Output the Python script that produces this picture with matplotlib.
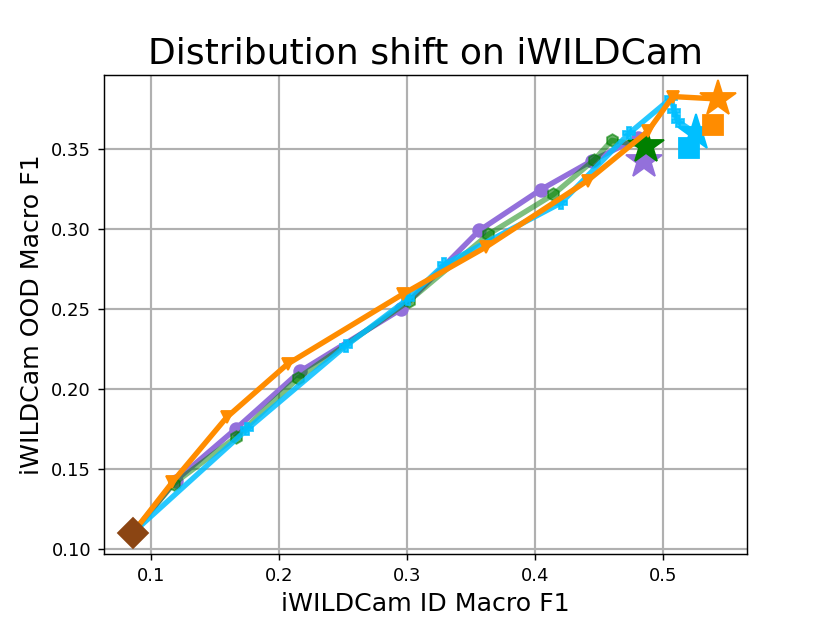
import matplotlib
matplotlib.use("Agg")
import matplotlib.pyplot as plt

# zero-shot start point
zs_x = [0.0862]
zs_y = [0.1104]

# purple series (circles)
purple_x = [0.0862, 0.1195, 0.1665, 0.2167, 0.2955, 0.3567, 0.4049, 0.4450, 0.4806]
purple_y = [0.1104, 0.1430, 0.1753, 0.2112, 0.2500, 0.2993, 0.3249, 0.3430, 0.3570]
purple_star = (0.4855, 0.3425)

# green series (hexagons)
green_x = [0.0862, 0.1180, 0.1665, 0.2152, 0.3017, 0.3637, 0.4146, 0.4467, 0.4602]
green_y = [0.1104, 0.1410, 0.1700, 0.2070, 0.2552, 0.2968, 0.3218, 0.3436, 0.3556]
green_star = (0.4870, 0.3520)

# blue series (plus markers)
blue_x = [0.0862, 0.1756, 0.2525, 0.3007, 0.3293, 0.4206, 0.4740, 0.5066, 0.5090, 0.5118]
blue_y = [0.1104, 0.1752, 0.2272, 0.2563, 0.2781, 0.3165, 0.3602, 0.3820, 0.3737, 0.3675]
blue_star = (0.5260, 0.3600)
blue_square = (0.5209, 0.3508)

# orange series (triangles)
orange_x = [0.0862, 0.1170, 0.1594, 0.2069, 0.2968, 0.3620, 0.4414, 0.4883, 0.5079]
orange_y = [0.1104, 0.1420, 0.1825, 0.2158, 0.2594, 0.2890, 0.3305, 0.3612, 0.3830]
orange_star = (0.5430, 0.3815)
orange_square = (0.5390, 0.3650)

fig = plt.figure(figsize=(830 / 130, 623 / 130), dpi=130)
ax = fig.add_subplot(111)
ax.grid(True, color="#b0b0b0", linewidth=1.2)
ax.set_axisbelow(True)

lw = 3
# purple
ax.plot(purple_x + [purple_star[0]], purple_y + [purple_star[1]], color="mediumpurple",
        linewidth=lw, zorder=2)
ax.plot(purple_x[1:], purple_y[1:], "o", color="mediumpurple", markersize=7, zorder=2)
ax.plot([purple_star[0]], [purple_star[1]], "*", color="mediumpurple", markersize=21, zorder=2)

# green
ax.plot(green_x + [green_star[0]], green_y + [green_star[1]], color="green", alpha=0.5,
        linewidth=lw, zorder=3)
ax.plot(green_x[1:], green_y[1:], "h", color="green", alpha=0.6, markersize=7, zorder=3)
ax.plot([green_star[0]], [green_star[1]], "*", color="green", markersize=21, zorder=3)

# blue
ax.plot(blue_x + [blue_star[0]], blue_y + [blue_star[1]], color="deepskyblue",
        linewidth=lw, alpha=0.85, zorder=4)
ax.plot(blue_x[1:], blue_y[1:], "P", color="deepskyblue", markersize=7, alpha=0.85, zorder=4)
ax.plot([blue_square[0]], [blue_square[1]], "s", color="deepskyblue", markersize=11, zorder=4)
ax.plot([blue_star[0]], [blue_star[1]], "*", color="deepskyblue", markersize=21, zorder=4)

# orange
ax.plot(orange_x + [orange_star[0]], orange_y + [orange_star[1]], color="darkorange",
        linewidth=lw, zorder=5)
ax.plot(orange_x[1:], orange_y[1:], "v", color="darkorange", markersize=7, zorder=5)
ax.plot([orange_square[0]], [orange_square[1]], "s", color="darkorange", markersize=11, zorder=5)
ax.plot([orange_star[0]], [orange_star[1]], "*", color="darkorange", markersize=21, zorder=5)

# zero-shot
ax.plot(zs_x, zs_y, "D", color="saddlebrown", markersize=12, zorder=6)

ax.set_title("Distribution shift on iWILDCam", fontsize=20)
ax.set_xlabel("iWILDCam ID Macro F1", fontsize=14)
ax.set_ylabel("iWILDCam OOD Macro F1", fontsize=14)

fig.savefig("out.png", dpi=130)
